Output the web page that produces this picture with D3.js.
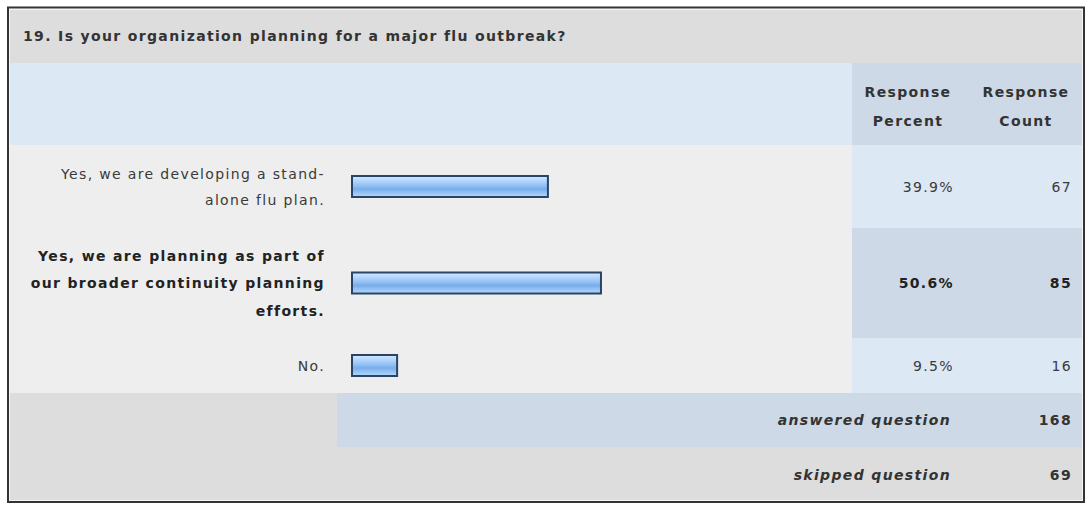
<!DOCTYPE html>
<html><head><meta charset="utf-8">
<script src="https://cdn.jsdelivr.net/npm/d3@7"></script>
<style>body{margin:0;background:#fff;} svg{display:block;} text{font-family:"DejaVu Sans",Verdana,sans-serif;}</style>
</head><body>
<svg id="c" width="1086" height="508"></svg>
<script>
const title = "19. Is your organization planning for a major flu outbreak?";
const headerCols = [["Response","Percent"],["Response","Count"]];
const answers = [
  ["Yes, we are developing a stand-","alone flu plan."],
  ["Yes, we are planning as part of","our broader continuity planning","efforts."],
  ["No."]
];
const percents = [39.9, 50.6, 9.5];
const counts = [67, 85, 16];
const answeredCount = 168;
const skippedCount = 69;
const highlight = [false, true, false];

const FS = 14, LS = 1.35;
const svg = d3.select("#c");
const defs = svg.append("defs");
const g = defs.append("linearGradient").attr("id","barg").attr("x1",0).attr("y1",0).attr("x2",0).attr("y2",1);
[[0,"#d4e9ff"],[0.3,"#a9d0fb"],[0.5,"#8cbcf2"],[0.62,"#78adeb"],[0.8,"#95c3f5"],[1,"#b7d8fb"]].forEach(s=>g.append("stop").attr("offset",s[0]).attr("stop-color",s[1]));

function txt(x,y,t,opts={}){
  return svg.append("text").attr("x",x).attr("y",y).attr("text-anchor",opts.anchor||"start")
    .attr("font-size",FS).attr("font-weight",opts.bold?"bold":"normal").attr("font-style",opts.italic?"italic":"normal")
    .attr("letter-spacing",LS).attr("fill",opts.fill||"#333").text(t);
}

const L=9, R=1083, T=9;
const colSplit = 852, answeredSplit = 337;
const rowY = [145, 228, 338, 393];
svg.append("rect").attr("x",L).attr("y",T).attr("width",R-L).attr("height",484).attr("fill","#eeeeee");
svg.append("rect").attr("x",L).attr("y",T).attr("width",R-L).attr("height",63-T).attr("fill","#dddddd");
txt(23,41,title,{bold:true});
svg.append("rect").attr("x",L).attr("y",63).attr("width",colSplit-L).attr("height",82).attr("fill","#dde8f5");
svg.append("rect").attr("x",colSplit).attr("y",63).attr("width",R-colSplit).attr("height",82).attr("fill","#cdd9e6");
const hx=[908,1026];
headerCols.forEach((lines,i)=>lines.forEach((t,j)=>txt(hx[i],97+j*29,t,{bold:true,anchor:"middle"})));
const x = d3.scaleLinear().domain([0,100]).range([351, 351+496]);
answers.forEach((lines,i)=>{
  const y0=rowY[i], y1=rowY[i+1], cy=(y0+y1)/2;
  svg.append("rect").attr("x",colSplit).attr("y",y0).attr("width",R-colSplit).attr("height",y1-y0).attr("fill", i%2===0?"#dde8f5":"#cdd9e6");
  const b = highlight[i];
  const lh = b?27.5:26;
  const startY = cy - (lines.length-1)*lh/2 + 5;
  const fill = b?"#222":"#3a3a3a";
  lines.forEach((t,j)=>txt(325,startY+j*lh,t,{bold:b,anchor:"end",fill}));
  svg.append("rect").attr("x",x(0)+1).attr("y",cy-10.5).attr("width",x(percents[i])-x(0)-2).attr("height",21).attr("fill","url(#barg)").attr("stroke","#2b4466").attr("stroke-width",2);
  txt(954,cy+5,percents[i].toFixed(1)+"%",{bold:b,anchor:"end",fill});
  txt(1072,cy+5,counts[i],{bold:b,anchor:"end",fill});
});
svg.append("rect").attr("x",L).attr("y",393).attr("width",R-L).attr("height",108).attr("fill","#dddddd");
svg.append("rect").attr("x",answeredSplit).attr("y",393).attr("width",R-answeredSplit).attr("height",54).attr("fill","#cdd9e6");
[["answered question",answeredCount,425],["skipped question",skippedCount,480]].forEach(r=>{
  txt(951,r[2],r[0],{bold:true,italic:true,anchor:"end"});
  txt(1072,r[2],r[1],{bold:true,anchor:"end"});
});
svg.append("rect").attr("x",8).attr("y",7.5).attr("width",1076).attr("height",494.5).attr("fill","none").attr("stroke","#333").attr("stroke-width",2);
svg.append("rect").attr("x",9.5).attr("y",9.5).attr("width",1073).attr("height",491).attr("fill","none").attr("stroke","#f4f4f4").attr("stroke-width",1);
</script>
</body></html>
